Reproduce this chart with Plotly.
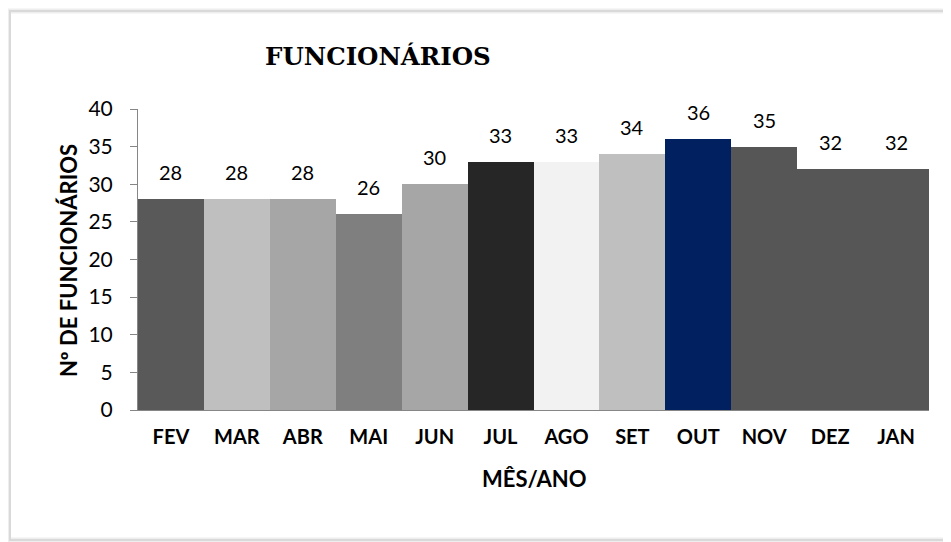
import plotly.graph_objects as go

meses = ["FEV", "MAR", "ABR", "MAI", "JUN", "JUL", "AGO", "SET", "OUT", "NOV", "DEZ", "JAN"]
funcionarios = [28, 28, 28, 26, 30, 33, 33, 34, 36, 35, 32, 32]
cores = ["#595959", "#BFBFBF", "#A6A6A6", "#7F7F7F", "#A6A6A6", "#262626",
         "#F2F2F2", "#BFBFBF", "#002060", "#565656", "#565656", "#565656"]
y_ticks = [0, 5, 10, 15, 20, 25, 30, 35, 40]

SANS = "Lato, Open Sans, sans-serif"
SERIF = "DejaVu Serif, serif"

fig = go.Figure()
fig.add_trace(go.Bar(
    x=meses, y=funcionarios,
    marker=dict(color=cores, line=dict(width=0)),
    hoverinfo="x+y",
))

annotations = []
for m, v in zip(meses, funcionarios):
    annotations.append(dict(x=m, y=v, xref="x", yref="y", text=str(v), showarrow=False,
                            yanchor="bottom", yshift=13,
                            font=dict(family=SANS, size=20, color="#000000")))

annotations.append(dict(x=0.3034, y=1.1728, xref="paper", yref="paper", text="<b>FUNCIONÁRIOS</b>",
                        showarrow=False, xanchor="center", yanchor="middle",
                        font=dict(family=SERIF, size=24.5, color="#000000")))
annotations.append(dict(x=-0.0885, y=0.498, xref="paper", yref="paper", text="<b>Nº DE FUNCIONÁRIOS</b>",
                        showarrow=False, textangle=-90, xanchor="center", yanchor="middle",
                        font=dict(family=SANS, size=22, color="#000000")))
annotations.append(dict(x=0.5, y=-0.226, xref="paper", yref="paper", text="<b>MÊS/ANO</b>",
                        showarrow=False, xanchor="center", yanchor="middle",
                        font=dict(family=SANS, size=22, color="#000000")))

fig.update_layout(
    width=943, height=534,
    margin=dict(l=130, r=22, t=101, b=132),
    paper_bgcolor="white", plot_bgcolor="white",
    bargap=0,
    showlegend=False,
    annotations=annotations,
    shapes=[
        dict(type="rect", xref="paper", yref="paper",
             x0=-0.1643, x1=1.3, y0=-0.4319, y1=1.3256,
             line=dict(color="#EEEEEE", width=5), fillcolor="rgba(0,0,0,0)", layer="below"),
        dict(type="rect", xref="paper", yref="paper",
             x0=-0.1618, x1=1.3, y0=-0.4319, y1=1.3256,
             line=dict(color="#D9D9D9", width=2), fillcolor="rgba(0,0,0,0)", layer="below"),
    ],
)
fig.update_xaxes(
    showgrid=False, showline=True, linecolor="#868686", linewidth=1,
    ticks="", tickfont=dict(family=SANS, size=20, color="#000000"),
    ticklabelstandoff=9,
    tickprefix="<b>", ticksuffix="</b>",
)
fig.update_yaxes(
    range=[0, 40], tickvals=y_ticks, showgrid=False, zeroline=False,
    showline=True, linecolor="#868686", linewidth=1,
    ticks="outside", ticklen=7, tickcolor="#868686",
    tickfont=dict(family=SANS, size=21, color="#000000"),
    ticklabelstandoff=13,
)

fig.write_html("out.html")
